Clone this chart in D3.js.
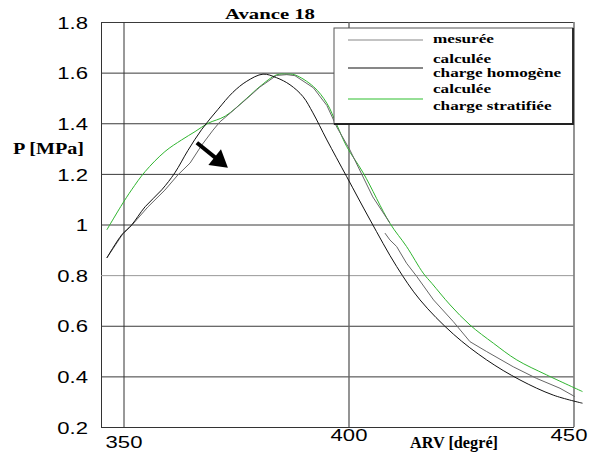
<!DOCTYPE html>
<head>
  <meta charset="utf-8">
  <script src="https://d3js.org/d3.v7.min.js"></script>
  <style>
    body { margin: 0; background: #fff; }
    .axis text {
      font-family: "Liberation Sans", Arial, sans-serif;
      font-size: 17px;
      fill: #000;
    }
    .lbl {
      font-family: "Liberation Serif", "Times New Roman", serif;
      font-weight: bold;
      fill: #000;
    }
    .curve { fill: none; stroke-width: 1px; }
  </style>
</head>
<body>
<script>
  // tick values / labels
  var yTicks = [0.2, 0.4, 0.6, 0.8, 1.0, 1.2, 1.4, 1.6, 1.8];
  var yTickLabels = ["0.2", "0.4", "0.6", "0.8", "1", "1.2", "1.4", "1.6", "1.8"];
  var xTicks = [350, 400, 450];
  var xTickLabels = ["350", "400", "450"];

  // calculee - charge homogene (black)
  var arvHomogene = [346.3, 349.6, 351.8, 354.8, 358.5, 361.4, 364.3, 367.4, 371, 374.3, 377.4, 381, 384, 387, 389.9, 392.1,
                     395.2, 399.6, 404.8, 410.7, 415.9, 423.3, 430.7, 438.1, 445.5, 452];
  var pHomogene = [0.868, 0.959, 0.998, 1.07, 1.137, 1.204, 1.292, 1.376, 1.455, 1.522, 1.566, 1.594, 1.58, 1.552, 1.505, 1.441,
                   1.334, 1.189, 1.018, 0.834, 0.702, 0.567, 0.465, 0.386, 0.326, 0.294];

  // mesuree (gray) - there is a break in the trace around 409 deg
  var arvMesuree = [346.3, 349.7, 351.9, 355.4, 359.2, 362.1, 364.8, 367.4, 369.9, 371.4, 373.7, 377.4, 380.3, 384, 386.3, 388.1,
                    392.2, 395.2, 397.4, 400.3, 405.4, 409.2, null, 408.1, 409.2, 410.7, 412.9, 415.2, 418.9, 423.3, 427,
                    430.7, 436.6, 441.8, 447, 450.3];
  var pMesuree = [0.868, 0.959, 0.998, 1.069, 1.136, 1.196, 1.243, 1.314, 1.373, 1.405, 1.44, 1.497, 1.543, 1.589, 1.592, 1.588,
                  1.54, 1.47, 1.385, 1.295, 1.109, 1.006, null, 0.966, 0.939, 0.913, 0.847, 0.794, 0.702, 0.616, 0.537,
                  0.498, 0.438, 0.392, 0.353, 0.32];

  // calculee - charge stratifiee (green)
  var arvStratifiee = [346.3, 349.6, 351.8, 354.8, 359.2, 362.9, 365.9, 368.8, 372.6, 377.4, 380.3, 384, 386.3, 388.1, 392.2,
                       395.2, 397.4, 399.6, 403.3, 409.2, 412.9, 416.6, 418.6, 422.6, 427, 432.2, 437.4, 444, 452];
  var pStratifiee = [0.979, 1.077, 1.137, 1.209, 1.288, 1.334, 1.367, 1.40, 1.428, 1.499, 1.545, 1.591, 1.594, 1.591, 1.545,
                     1.479, 1.394, 1.308, 1.203, 1.005, 0.913, 0.808, 0.766, 0.682, 0.603, 0.531, 0.465, 0.406, 0.340];

  // annotation arrow (start, tip)
  var arrowArv = [366.3, 373.2];
  var arrowP = [1.323, 1.224];

  var legendLabels = [["mesurée"], ["calculée", "charge homogène"], ["calculée", "charge stratifiée"]];

  var W = 591, H = 455;
  var plotL = 101, plotR = 573.5, plotT = 22, plotB = 427;

  var svg = d3.select("body").append("svg")
      .attr("width", W)
      .attr("height", H);

  var x = d3.scaleLinear().domain([345, 450]).range([plotL, plotR]);
  var y = d3.scaleLinear().domain([0.2, 1.8]).range([plotB, plotT]);

  //y axis + horizontal grid
  var yAxis = svg.append("g")
      .attr("class", "axis")
      .attr("transform", "translate(" + plotL + ",0)")
      .call(d3.axisLeft(y)
        .tickValues(yTicks)
        .tickSize(-(plotR - plotL))
        .tickSizeOuter(0)
        .tickPadding(10)
        .tickFormat(function(d, i) { return yTickLabels[i]; }));
  yAxis.select(".domain").attr("stroke", "#333");
  yAxis.selectAll(".tick line")
      .attr("stroke", function(d) { return d === 0.8 ? "#999" : "#3a3a3a"; });
  yAxis.selectAll(".tick text")
      .attr("dy", "0.36em")
      .attr("transform", "scale(1.3,1)");

  //x axis + vertical grid
  var xAxis = svg.append("g")
      .attr("class", "axis")
      .attr("transform", "translate(0," + plotB + ")")
      .call(d3.axisBottom(x)
        .tickValues(xTicks)
        .tickSize(-(plotB - plotT))
        .tickSizeOuter(0)
        .tickPadding(2)
        .tickFormat(function(d, i) { return xTickLabels[i]; }));
  xAxis.select(".domain").attr("stroke", "#333");
  xAxis.selectAll(".tick line")
      .attr("stroke", function(d) { return d === 350 ? "#333" : "#666"; })
      .attr("stroke-width", function(d) { return d === 350 ? 1 : 1.4; });
  xAxis.selectAll(".tick text")
      .attr("transform", "scale(1.3,1)")
      .attr("y", function(d) { return d === 350 ? 9 : 2; })
      .attr("x", function(d) { return d === 450 ? -5 / 1.3 : 0; });

  // curves
  var line = d3.line()
      .defined(function(d) { return d[1] != null; })
      .x(function(d) { return x(d[0]); })
      .y(function(d) { return y(d[1]); });

  svg.append("path")
      .datum(d3.zip(arvStratifiee, pStratifiee))
      .attr("class", "curve")
      .attr("stroke", "#2fb52f")
      .attr("d", line.curve(d3.curveCatmullRom.alpha(0.5)));

  svg.append("path")
      .datum(d3.zip(arvMesuree, pMesuree))
      .attr("class", "curve")
      .attr("stroke", "#666")
      .attr("d", line.curve(d3.curveLinear));

  svg.append("path")
      .datum(d3.zip(arvHomogene, pHomogene))
      .attr("class", "curve")
      .attr("stroke", "#111")
      .attr("d", line.curve(d3.curveCatmullRom.alpha(0.5)));

  // arrow
  var x0 = x(arrowArv[0]), y0 = y(arrowP[0]), x1 = x(arrowArv[1]), y1 = y(arrowP[1]);
  var len = Math.hypot(x1 - x0, y1 - y0), ux = (x1 - x0) / len, uy = (y1 - y0) / len;
  var headL = 17, headW = 10;
  var bx = x1 - ux * headL, by = y1 - uy * headL;
  svg.append("line")
      .attr("x1", x0).attr("y1", y0)
      .attr("x2", bx + ux * 2).attr("y2", by + uy * 2)
      .attr("stroke", "#000")
      .attr("stroke-width", 4);
  svg.append("polygon")
      .attr("points", [[x1, y1], [bx - uy * headW, by + ux * headW], [bx + uy * headW, by - ux * headW]].join(" "))
      .attr("fill", "#000");

  // legend
  var lg = svg.append("g");
  lg.append("rect")
      .attr("x", 334).attr("y", 28)
      .attr("width", 239).attr("height", 96)
      .attr("fill", "#fff")
      .attr("stroke", "#555");
  lg.append("path")
      .attr("d", "M573,28V124H334")
      .attr("fill", "none")
      .attr("stroke", "#222")
      .attr("stroke-width", 1.8);

  var sampleY = [40, 68, 99];
  var sampleColor = ["#888", "#111", "#2fc02f"];
  var textBase = [[43], [63, 77], [93, 110]];

  legendLabels.forEach(function(lines, i) {
    lg.append("line")
        .attr("x1", 348).attr("x2", 423)
        .attr("y1", sampleY[i]).attr("y2", sampleY[i])
        .attr("stroke", sampleColor[i])
        .attr("stroke-width", 1.2);
    lines.forEach(function(t, j) {
      lg.append("text")
          .attr("class", "lbl legend-text")
          .attr("x", 433)
          .attr("y", textBase[i][j])
          .style("font-size", "13.5px")
          .text(t);
    });
  });

  lg.selectAll(".legend-text").each(function() {
    var w = this.getComputedTextLength();
    d3.select(this).attr("textLength", w * 1.27).attr("lengthAdjust", "spacingAndGlyphs");
  });

  // titles
  svg.append("text")
      .attr("class", "lbl")
      .attr("x", 225).attr("y", 19)
      .style("font-size", "15px")
      .attr("textLength", 90).attr("lengthAdjust", "spacingAndGlyphs")
      .text("Avance 18");

  svg.append("text")
      .attr("class", "lbl")
      .attr("x", 13).attr("y", 154)
      .style("font-size", "16px")
      .attr("textLength", 71).attr("lengthAdjust", "spacingAndGlyphs")
      .text("P [MPa]");

  svg.append("text")
      .attr("class", "lbl")
      .attr("x", 410).attr("y", 448)
      .style("font-size", "16px")
      .attr("textLength", 88).attr("lengthAdjust", "spacingAndGlyphs")
      .text("ARV [degré]");
</script>
</body>
